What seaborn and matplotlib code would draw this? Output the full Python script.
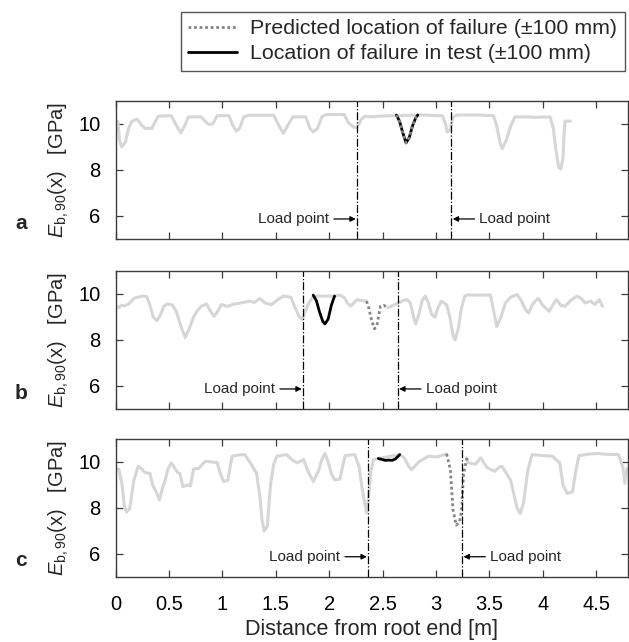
import numpy as np
import matplotlib
matplotlib.use("Agg")
import matplotlib.pyplot as plt
import seaborn as sns
from matplotlib.lines import Line2D
from matplotlib.ticker import FormatStrFormatter

# ---- data (x in m, E_b,90 in GPa) ----
a_gray = [(0.0, 10.1), (0.02, 10.1), (0.035, 9.3), (0.056, 9.0), (0.09, 9.2), (0.12, 9.8), (0.15, 10.1),
          (0.2, 10.2), (0.24, 9.95), (0.275, 9.8), (0.34, 9.8), (0.37, 10.1), (0.40, 10.33), (0.52, 10.35),
          (0.56, 10.0), (0.61, 9.6), (0.65, 9.95), (0.68, 10.3), (0.80, 10.3), (0.84, 10.1), (0.87, 9.97),
          (0.91, 10.0), (0.95, 10.35), (1.06, 10.35), (1.10, 9.9), (1.13, 9.68), (1.16, 9.8), (1.20, 10.3),
          (1.25, 10.37), (1.48, 10.37), (1.52, 10.0), (1.57, 9.58), (1.62, 10.0), (1.66, 10.3), (1.78, 10.3),
          (1.82, 9.8), (1.85, 9.65), (1.89, 9.8), (1.93, 10.3), (1.97, 10.4), (2.14, 10.4), (2.18, 10.05),
          (2.23, 9.85), (2.26, 9.82), (2.30, 10.2), (2.34, 10.33), (2.40, 10.3), (2.45, 10.32), (2.55, 10.35),
          (2.63, 10.35), (2.83, 10.38), (2.90, 10.38), (3.0, 10.35), (3.06, 10.35), (3.09, 10.0), (3.105, 9.65),
          (3.13, 9.7), (3.16, 10.3), (3.2, 10.38), (3.4, 10.38), (3.54, 10.35), (3.57, 9.9), (3.60, 9.2),
          (3.62, 8.92), (3.66, 9.3), (3.70, 9.9), (3.74, 10.3), (3.85, 10.3), (3.95, 10.28), (4.07, 10.3),
          (4.10, 9.8), (4.12, 9.0), (4.15, 8.1), (4.17, 8.04), (4.19, 8.5), (4.20, 9.5), (4.21, 10.12),
          (4.26, 10.12)]
a_test = [(2.63, 10.38), (2.66, 10.1), (2.69, 9.6), (2.72, 9.17), (2.75, 9.4), (2.78, 9.9), (2.81, 10.25),
          (2.83, 10.38)]
a_pred = a_test  # prediction and test coincide for beam a
a_load = [2.264, 3.142]

b_gray = [(0.0, 9.46), (0.03, 9.4), (0.05, 9.5), (0.08, 9.48), (0.12, 9.55), (0.17, 9.8), (0.2, 9.85),
          (0.26, 9.9), (0.29, 9.88), (0.32, 9.5), (0.35, 9.0), (0.385, 8.83), (0.42, 9.1), (0.45, 9.45),
          (0.48, 9.56), (0.53, 9.52), (0.57, 9.2), (0.61, 8.6), (0.65, 8.1), (0.69, 8.5), (0.73, 9.0),
          (0.76, 9.24), (0.80, 9.45), (0.85, 9.56), (0.88, 9.3), (0.92, 9.02), (0.95, 9.2), (0.99, 9.53),
          (1.05, 9.45), (1.10, 9.55), (1.17, 9.6), (1.22, 9.65), (1.26, 9.68), (1.30, 9.62), (1.35, 9.8),
          (1.40, 9.6), (1.46, 9.53), (1.52, 9.75), (1.57, 9.9), (1.64, 9.85), (1.68, 9.4), (1.72, 9.0),
          (1.75, 8.88), (1.78, 9.3), (1.81, 9.6), (1.85, 9.9), (2.05, 9.9), (2.10, 9.94), (2.14, 9.85),
          (2.17, 9.6), (2.20, 9.46), (2.23, 9.6), (2.26, 9.75), (2.30, 9.7), (2.35, 9.68),
          (2.55, 9.4), (2.58, 9.45), (2.62, 9.55), (2.65, 9.6), (2.69, 9.7), (2.73, 9.75), (2.76, 9.6),
          (2.79, 9.0), (2.81, 8.69), (2.84, 9.1), (2.87, 9.7), (2.90, 9.9), (2.93, 9.6), (2.96, 9.1),
          (2.99, 8.98), (3.02, 9.4), (3.05, 9.68), (3.10, 9.53), (3.13, 9.0), (3.16, 8.2), (3.18, 8.0),
          (3.21, 8.5), (3.24, 9.4), (3.27, 9.9), (3.3, 9.95), (3.4, 9.94), (3.51, 9.95), (3.53, 9.5),
          (3.57, 8.58), (3.61, 9.0), (3.65, 9.6), (3.70, 9.85), (3.76, 9.97), (3.80, 9.7), (3.84, 9.3),
          (3.87, 9.17), (3.90, 9.5), (3.93, 9.68), (3.96, 9.8), (4.00, 9.5), (4.06, 9.24), (4.10, 9.55),
          (4.13, 9.75), (4.17, 9.5), (4.21, 9.46), (4.26, 9.7), (4.32, 9.9), (4.36, 9.8), (4.40, 9.6),
          (4.45, 9.68), (4.49, 9.53), (4.53, 9.75), (4.56, 9.46)]
b_test = [(1.85, 9.94), (1.88, 9.7), (1.91, 9.2), (1.94, 8.8), (1.96, 8.69), (1.99, 8.9), (2.02, 9.5),
          (2.05, 9.9)]
b_pred = [(2.35, 9.68), (2.37, 9.4), (2.40, 8.8), (2.425, 8.48), (2.45, 8.7), (2.48, 9.46), (2.51, 9.5),
          (2.55, 9.4)]
b_load = [1.758, 2.64]

c_gray = [(0.0, 9.7), (0.03, 9.68), (0.06, 9.0), (0.08, 8.1), (0.10, 7.82), (0.13, 7.95), (0.17, 9.2),
          (0.21, 9.81), (0.24, 9.7), (0.275, 9.54), (0.32, 9.5), (0.35, 8.95), (0.38, 8.7), (0.41, 8.34),
          (0.44, 8.9), (0.46, 9.15), (0.49, 9.7), (0.52, 9.96), (0.55, 9.75), (0.58, 9.54), (0.60, 9.5),
          (0.63, 8.93), (0.68, 9.0), (0.70, 8.95), (0.73, 9.7), (0.78, 9.72), (0.82, 9.95), (0.85, 10.03),
          (0.90, 10.0), (0.95, 9.97), (0.98, 9.5), (1.01, 9.15), (1.05, 9.2), (1.09, 10.25), (1.15, 10.3),
          (1.21, 10.32), (1.26, 9.96), (1.32, 9.5), (1.35, 8.5), (1.37, 7.5), (1.39, 6.99), (1.42, 7.2),
          (1.45, 9.0), (1.48, 9.9), (1.51, 10.25), (1.60, 10.32), (1.65, 10.1), (1.70, 9.96), (1.76, 10.1),
          (1.80, 9.6), (1.85, 9.15), (1.90, 9.6), (1.93, 10.1), (1.96, 10.37), (1.99, 10.0), (2.02, 9.5),
          (2.05, 9.22), (2.10, 9.25), (2.13, 9.9), (2.15, 10.28), (2.24, 10.32), (2.28, 9.8), (2.31, 8.8),
          (2.35, 7.78), (2.37, 8.5), (2.39, 9.6), (2.415, 10.1), (2.46, 10.15), (2.66, 10.32), (2.70, 10.2),
          (2.74, 9.85), (2.77, 9.66), (2.81, 9.85), (2.84, 10.0), (2.93, 10.25), (3.01, 10.22),
          (3.10, 10.35), (3.29, 10.18), (3.30, 9.97), (3.37, 9.9), (3.42, 10.18), (3.45, 9.95), (3.48, 9.75),
          (3.55, 9.59), (3.60, 9.8), (3.62, 9.8), (3.66, 9.5), (3.70, 9.2), (3.73, 8.6), (3.76, 8.0),
          (3.79, 7.75), (3.82, 8.2), (3.86, 9.6), (3.90, 10.32), (4.0, 10.28), (4.09, 10.25), (4.16, 9.96),
          (4.19, 9.0), (4.23, 8.63), (4.28, 8.7), (4.31, 9.6), (4.34, 10.28), (4.45, 10.35), (4.52, 10.37),
          (4.60, 10.33), (4.71, 10.32), (4.75, 9.8), (4.77, 9.07), (4.79, 9.7), (4.80, 9.7)]
c_test = [(2.46, 10.15), (2.50, 10.1), (2.525, 10.07), (2.56, 10.08), (2.59, 10.07), (2.62, 10.13),
          (2.64, 10.22), (2.66, 10.32)]
c_pred = [(3.10, 10.35), (3.135, 9.66), (3.16, 7.9), (3.19, 7.24), (3.22, 7.38), (3.24, 7.9), (3.25, 8.78),
          (3.26, 9.51), (3.29, 10.18)]
c_load = [2.368, 3.243]

panel_letters = ["a", "b", "c"]
x_ticks = [0, 0.5, 1, 1.5, 2, 2.5, 3, 3.5, 4, 4.5]
y_ticks = [6, 8, 10]
legend_labels = ["Predicted location of failure (±100 mm)", "Location of failure in test (±100 mm)"]

# ---- style ----
sns.set_theme(style="ticks")
plt.rcParams["font.family"] = ["Liberation Sans", "DejaVu Sans"]
plt.rcParams["mathtext.fontset"] = "custom"
plt.rcParams["mathtext.rm"] = "Liberation Sans"
plt.rcParams["mathtext.it"] = "Liberation Sans:italic"

GRAY = "#d6d6d6"
PRED = "#858585"
SPINE = "#3c3c3c"
FS = 14.5


def draw(ax, pts, **kw):
    arr = np.array(pts)
    sns.lineplot(x=arr[:, 0], y=arr[:, 1], ax=ax, sort=False, estimator=None, **kw)


def draw_gray(ax, pts, gap=None):
    arr = np.array(pts)
    parts = [arr] if gap is None else [arr[arr[:, 0] <= gap[0]], arr[arr[:, 0] >= gap[1]]]
    for part in parts:
        draw(ax, part, color=GRAY, linewidth=2.2, solid_joinstyle="round")


fig = plt.figure(figsize=(6.29, 6.42), dpi=100)
rects = [[0.184, 0.6277, 0.8145, 0.2154],
         [0.184, 0.3629, 0.8145, 0.2154],
         [0.184, 0.1017, 0.8145, 0.2145]]

panels = [(a_gray, a_test, a_pred, a_load, None),
          (b_gray, b_test, b_pred, b_load, (2.35, 2.55)),
          (c_gray, c_test, c_pred, c_load, (3.10, 3.29))]

for i, (gray, test, pred, loads, gap) in enumerate(panels):
    ax = fig.add_axes(rects[i])
    draw_gray(ax, gray, gap)
    draw(ax, test, color="black", linewidth=2.0, solid_joinstyle="round")
    draw(ax, pred, color=PRED, linewidth=2.0, linestyle=(0, (1, 1)))

    for j, lx in enumerate(loads):
        ax.axvline(lx, color="black", linewidth=0.9, linestyle="-.")
        s = -1 if j == 0 else 1
        ax.annotate("", xy=(lx + s * 0.015, 5.87), xytext=(lx + s * 0.22, 5.87),
                    arrowprops=dict(arrowstyle="-|>", color="black", lw=0.9,
                                    mutation_scale=8, shrinkA=0, shrinkB=0))
        ax.text(lx + s * 0.265, 5.87, "Load point", ha="right" if j == 0 else "left",
                va="center", fontsize=11)

    ax.set_xlim(0, 4.8)
    ax.set_ylim(5, 11)
    ax.set_xticks(x_ticks)
    ax.set_yticks(y_ticks)
    ax.xaxis.set_major_formatter(FormatStrFormatter("%g"))
    ax.tick_params(direction="in", top=True, right=True, length=5, width=0.9,
                   color=SPINE, labelsize=FS, labelcolor="black")
    ax.tick_params(axis="x", pad=13)
    ax.tick_params(axis="y", pad=11)
    for sp in ax.spines.values():
        sp.set_color(SPINE)
        sp.set_linewidth(1.0)
    ax.set_ylabel(r"$E_{\mathrm{b,90}}(\mathrm{x})$   [GPa]", fontsize=FS, labelpad=5)
    if i < 2:
        ax.tick_params(labelbottom=False)
        ax.set_xlabel("")
    else:
        ax.set_xlabel("Distance from root end [m]", fontsize=15.5, labelpad=4)

    bottom_px = (1 - rects[i][1]) * 642
    fig.text(21 / 629, 1 - (bottom_px - 16) / 642, panel_letters[i], fontsize=15,
             fontweight="bold", ha="center", va="center")

handles = [Line2D([], [], color=PRED, linestyle=(0, (1, 1)), linewidth=2.0),
           Line2D([], [], color="black", linewidth=2.0)]
fig.legend(handles, legend_labels, loc="upper left", bbox_to_anchor=(0.287, 0.9813),
           fontsize=15.4, frameon=True, fancybox=False, edgecolor="#555555", framealpha=1,
           borderpad=0.35, labelspacing=0.28, handlelength=2.3, handletextpad=0.6,
           borderaxespad=0)

plt.savefig("out.png", dpi=100)
plt.close()
